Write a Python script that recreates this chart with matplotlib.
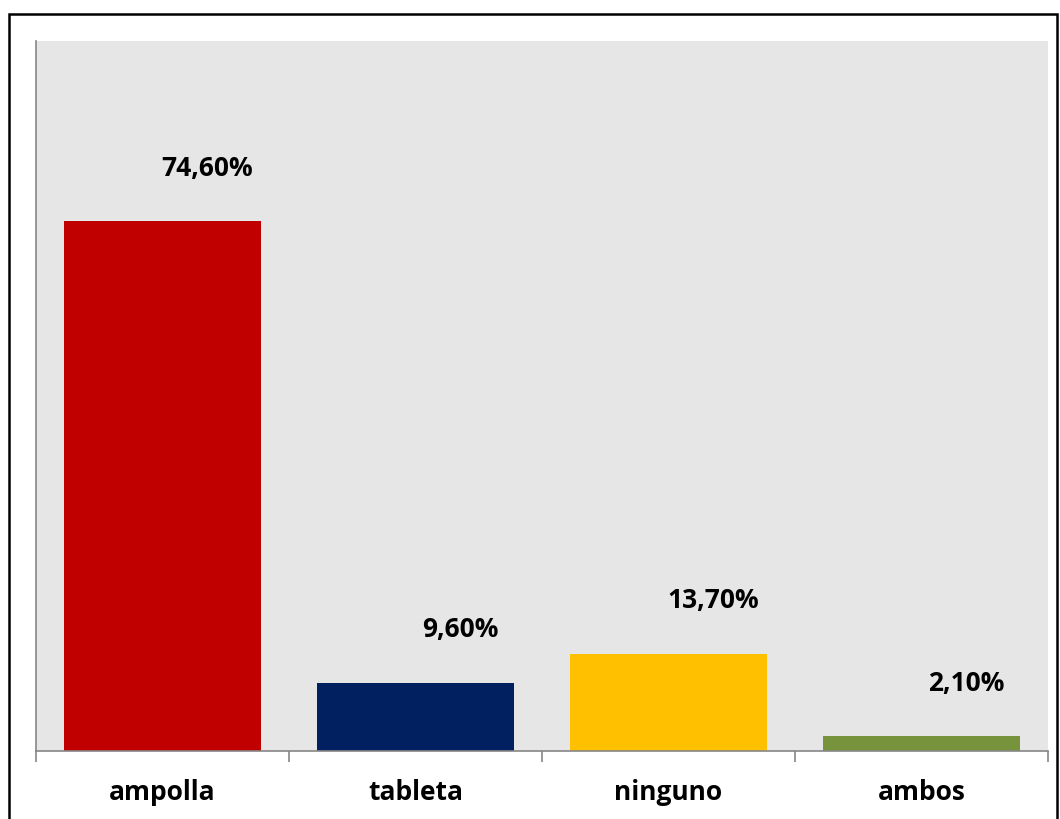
import matplotlib.pyplot as plt
from matplotlib.patches import Rectangle

categories = ['ampolla', 'tableta', 'ninguno', 'ambos']
values = [74.6, 9.6, 13.7, 2.1]
labels = ['74,60%', '9,60%', '13,70%', '2,10%']
colors = ['#C00000', '#002060', '#FFC000', '#77933C']

plt.rcParams['font.family'] = ['Open Sans', 'DejaVu Sans']

fig = plt.figure(figsize=(10.6, 8.19), dpi=100)
ax = fig.add_axes([36 / 1060, 68 / 819, 1012 / 1060, 710 / 819])
ax.set_facecolor('#E6E6E6')

x = range(len(categories))
bars = ax.bar(x, values, width=0.78, color=colors)

# value labels sit up and to the right of each bar
for b, lab in zip(bars, labels):
    ax.annotate(lab, (b.get_x() + b.get_width() / 2, b.get_height()),
                xytext=(45, 53), textcoords='offset pixels',
                ha='center', va='center', fontsize=19, fontweight='bold')

ax.set_xlim(-0.5, len(categories) - 0.5)
ax.set_ylim(0, 100)
ax.set_yticks([])

# category labels at centres, tick marks at the boundaries
ax.set_xticks(list(x))
ax.set_xticklabels(categories, fontsize=19, fontweight='bold')
ax.tick_params(axis='x', which='major', length=0, pad=20)
ax.set_xticks([i - 0.5 for i in range(len(categories) + 1)], minor=True)
ax.tick_params(axis='x', which='minor', length=8, color='#868686', width=1.2)

for s in ['top', 'right']:
    ax.spines[s].set_visible(False)
for s in ['left', 'bottom']:
    ax.spines[s].set_color('#868686')
    ax.spines[s].set_linewidth(1.2)

# outer chart border
fig.patches.append(Rectangle((9 / 1060, -0.05), 1048 / 1060, (819 - 14) / 819 + 0.05,
                             transform=fig.transFigure, fill=False,
                             edgecolor='black', linewidth=1.8))

fig.savefig('out.png', dpi=100)
